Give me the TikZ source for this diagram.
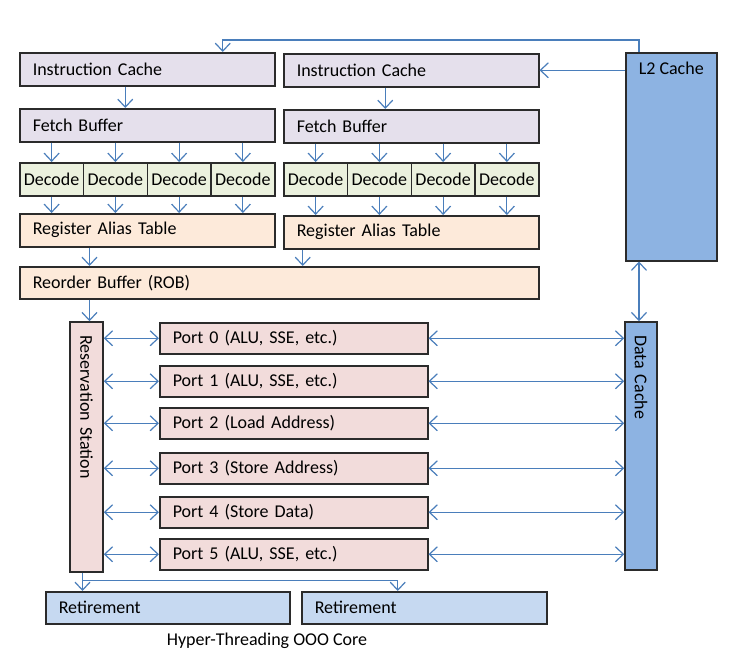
\documentclass[tikz,border=0pt]{standalone}
\usepackage{fontspec}
\setmainfont{Carlito}
\usetikzlibrary{arrows.meta}
\definecolor{fetchfill}{HTML}{E5E0EC}
\definecolor{decfill}{HTML}{EBF1DE}
\definecolor{ratfill}{HTML}{FDEADA}
\definecolor{portfill}{HTML}{F2DCDB}
\definecolor{cachefill}{HTML}{8DB3E2}
\definecolor{retfill}{HTML}{C6D9F1}
\definecolor{arrowblue}{HTML}{4A7EBB}
\definecolor{edge}{HTML}{2B2B2B}

\begin{document}
\begin{tikzpicture}[x=1pt,y=-1pt,
  font=\fontsize{18}{21}\selectfont,
  box/.style={draw=edge, line width=1.5pt, anchor=north west, minimum height=33pt,
    inner xsep=13pt, inner ysep=0pt, align=left},
  half/.style={box, text width=229pt},
  dec/.style={draw=edge, line width=1.5pt, fill=decfill, anchor=north west,
    minimum width=63.75pt, minimum height=33pt, inner sep=0pt},
  upright/.style={draw=edge, line width=1.5pt, rotate=-90, inner xsep=13pt, inner ysep=0pt, align=left},
  arr/.style={arrowblue, line width=1.2pt, -{Straight Barb[length=8pt,width=15pt]}},
  biarr/.style={arrowblue, line width=1.2pt,
    {Straight Barb[length=8pt,width=15pt]}-{Straight Barb[length=8pt,width=15pt]}}]
\useasboundingbox (0,0) rectangle (729,657);

% front end, thread 0
\node[half, fill=fetchfill] (icL) at (19,52) {Instruction Cache};
\node[half, fill=fetchfill] (fbL) at (19,108) {Fetch Buffer};
\foreach \i in {1,...,4}
    \node[dec] (decL\i) at ({19+(\i-1)*63.75},162) {Decode};
\node[half, fill=ratfill] (ratL) at (19,213) {Register Alias Table};

% front end, thread 1
\node[half, fill=fetchfill] (icR) at (283,53) {Instruction Cache};
\node[half, fill=fetchfill] (fbR) at (283,109) {Fetch Buffer};
\foreach \i in {1,...,4}
    \node[dec] (decR\i) at ({283+(\i-1)*63.75},162) {Decode};
\node[half, fill=ratfill] (ratR) at (283,215) {Register Alias Table};

% shared back end (rotated nodes: west = top, north = right, east = bottom, south = left)
\node[box, fill=ratfill, text width=493pt, minimum height=32pt] (rob) at (19,266) {Reorder Buffer (ROB)};
\node[upright, fill=portfill, minimum width=250pt, minimum height=33pt, text width=224pt]
    (rs) at (86.5,447) {Reservation Station};
\foreach \i/\y/\t in {0/322/{Port 0 (ALU, SSE, etc.)}, 1/365/{Port 1 (ALU, SSE, etc.)},
    2/407/{Port 2 (Load Address)}, 3/452/{Port 3 (Store Address)},
    4/496/{Port 4 (Store Data)}, 5/538/{Port 5 (ALU, SSE, etc.)}}
    \node[box, fill=portfill, text width=242pt, minimum height=31pt] (p\i) at (159,\y) {\t};

% caches
\node[draw=edge, line width=1.5pt, fill=cachefill, anchor=north west, minimum width=91pt, minimum height=208pt,
    label={[anchor=north, yshift=-6pt]north:L2 Cache}] (l2) at (625,52) {};
\node[upright, fill=cachefill, minimum width=248pt, minimum height=32pt, text width=222pt]
    (dc) at (641,446) {Data Cache};

% retirement
\node[box, fill=retfill, text width=218pt, minimum height=32pt] (retL) at (45,591) {Retirement};
\node[box, fill=retfill, text width=219pt, minimum height=32pt] (retR) at (301,591) {Retirement};
\node (caption) at (267,641) {Hyper-Threading OOO Core};

% L2 to instruction caches
\coordinate (l2top) at ([xshift=14pt]l2.north west);
\draw[arr] (l2top) -- ++(0,-12) -| ([xshift=75.5pt]icL.north);
\draw[arr] (l2.west |- icR.east) -- (icR.east);

% fetch and decode
\draw[arr] ([xshift=-22pt]icL.south) -- ([xshift=-22pt]fbL.north);
\draw[arr] ([xshift=-26pt]icR.south) -- ([xshift=-26pt]fbR.north);
\foreach \i in {1,...,4} {
    \draw[arr] (fbL.south -| decL\i.north) -- (decL\i.north);
    \draw[arr] (decL\i.south) -- (decL\i.south |- ratL.north);
    \draw[arr] (fbR.south -| decR\i.north) -- (decR\i.north);
    \draw[arr] (decR\i.south) -- (decR\i.south |- ratR.north);
}

% rename to reorder buffer
\draw[arr] ([xshift=3pt]ratL.south -| rs.west) -- ([xshift=3pt]rob.north -| rs.west);
\draw[arr] ([xshift=-108.5pt]ratR.south) -- ([xshift=-108.5pt]ratR.south |- rob.north);
\draw[arr] ([xshift=3pt]rob.south -| rs.west) -- ([xshift=3pt]rs.west);

% ports
\foreach \i in {0,...,5} {
    \draw[biarr] (rs.north |- p\i.west) -- (p\i.west);
    \draw[biarr] (p\i.east) -- (p\i.east -| dc.south);
}
\draw[biarr] ([xshift=-2pt]dc.west |- l2.south) -- ([xshift=-2pt]dc.west);

% retire
\draw[arr] ([xshift=-4pt]rs.east) -- ([xshift=-4pt]rs.east |- retL.north);
\draw[arr] ([xshift=-4pt,yshift=-8pt]rs.east) -| ([xshift=-26.5pt]retR.north);
\end{tikzpicture}
\end{document}
